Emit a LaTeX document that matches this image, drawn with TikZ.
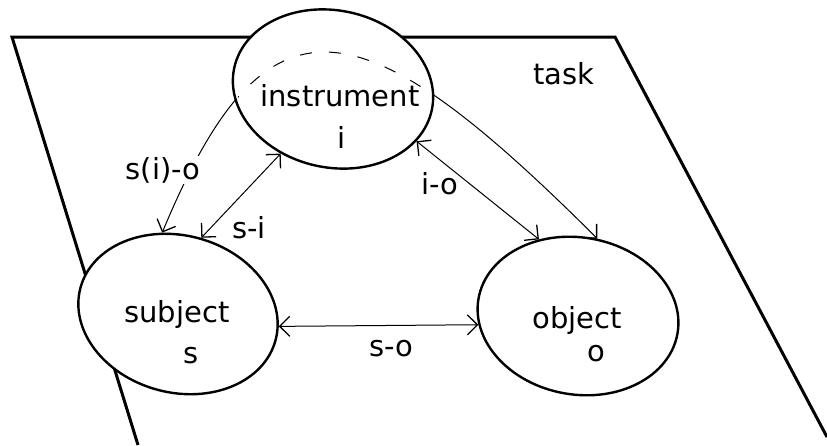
\documentclass[tikz,border=0pt]{standalone}
\usepackage{fontspec}
\setmainfont{DejaVu Sans}
\usetikzlibrary{shapes.geometric,arrows.meta}
\pgfdeclarelayer{bg}
\pgfsetlayers{bg,main}
\begin{document}
\begin{tikzpicture}[x=1pt,y=-1pt,
  txt/.style={font=\fontsize{29}{32}\selectfont, inner sep=0pt},
  role/.style={ellipse, draw, fill=white, line width=2.4pt, minimum width=202pt, minimum height=157pt, inner sep=0pt},
  link/.style={line width=1pt, {Straight Barb[length=10pt,width=20pt,line width=1.3pt]}-{Straight Barb[length=10pt,width=20pt,line width=1.3pt]}},
  plane/.style={line width=3pt, line join=miter},
  dashlink/.style={line width=1pt, dash pattern=on 12pt off 17pt}]
\useasboundingbox (0,0) rectangle (827,445);

% ellipses
\node[role, rotate=-12] (instrument) at (333,89) {};
\node[role, rotate=-15] (subject) at (178,314) {};
\node[role, rotate=-10] (object) at (578,316) {};

% texts inside
\node[txt] (instrumentname) at (340,96) {instrument};
\node[txt] (instrumentsym) at (342,137) {i};
\node[txt] (subjectname) at (177,314) {subject};
\node[txt] (subjectsym) at (191,356) {s};
\node[txt] (objectname) at (577,320) {object};
\node[txt] (objectsym) at (596,354) {o};
\node[txt] (tasklabel) at (564,74) {task};

% background: task plane and the s(i)-o arc
\begin{pgfonlayer}{bg}
  \draw[plane] (138,445) -- (12,37) -- (615,37) -- (827,437);
  \draw[link] (subject.116) .. controls (267,-19) and (359,1) .. (object.86);
\end{pgfonlayer}

% dashed part of the arc over the instrument
\begin{scope}
  \clip[rotate around={-12:(instrument.center)}] (instrument.center) ellipse [x radius=98, y radius=76];
  \draw[dashlink] (subject.116) .. controls (267,-19) and (359,1) .. (object.86);
\end{scope}

% straight connectors
\draw[link] (subject.8) -- (object.195.7);
\draw[link] (subject.88) -- (instrument.243.6);
\draw[link] (instrument.-20) -- (object.127);

% edge labels
\node[txt, fill=white, inner sep=1pt] (sio) at (163,170) {s(i)-o};
\node[txt] (si) at (249,228) {s-i};
\node[txt] (io) at (440,184) {i-o};
\node[txt] (so) at (391,349) {s-o};
\end{tikzpicture}
\end{document}
